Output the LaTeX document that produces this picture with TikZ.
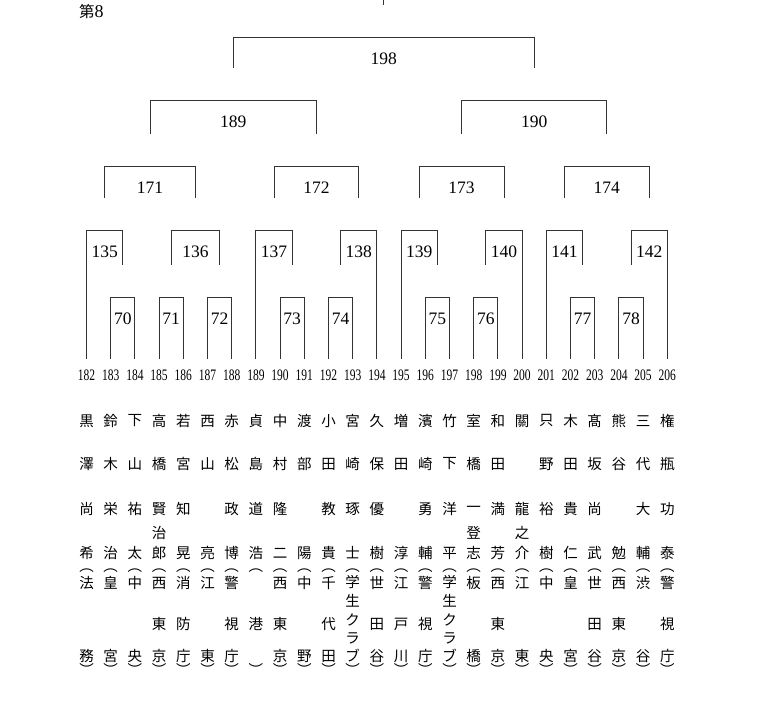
\documentclass[tikz,border=0pt]{standalone}
\usepackage{fontspec}
\setmainfont{Liberation Serif}
\newfontfamily\jp{Noto Sans CJK JP}
\usepackage{graphicx}
\usetikzlibrary{calc}

% one entrant: name and team, written top to bottom under its number
\newcommand{\entrant}[2]{%
  \node[paren] (o#1) at (n#1 |- 0,130) {︵};
  \node[paren] (c#1) at (n#1 |- 0,32) {︶};
  \foreach \kj/\ky [count=\kk] in {#2}
    \node[kanji] (k#1-\kk) at (n#1 |- 0,\ky) {\kj};
}

\begin{document}
\begin{tikzpicture}[x=1pt, y=1pt, every node/.style={inner sep=0pt},
  leaf/.style={minimum height=32pt, font=\fontsize{16}{16}\selectfont},
  lbl/.style={minimum height=42pt, font=\fontsize{17.5}{17.5}\selectfont},
  kanji/.style={font=\jp\fontsize{14.5}{14.5}\selectfont},
  paren/.style={kanji},
  bracket/.style={line width=0.9pt, draw=black!80}]
  \useasboundingbox (0,0) rectangle (760,701);

  % heading
  \node[anchor=west, font=\jp\fontsize{15.5}{15.5}\selectfont] (title) at (79,689) {第{\rmfamily\fontsize{18}{18}\selectfont 8}};

  % entrant numbers
  \foreach \i [count=\k from 0] in {182,...,206}
    \node[leaf] (n\i) at (86.5+24.2*\k,326) {\scalebox{0.72}[1]{\i}};

  % first round
  \node[lbl] (m70) at ($(n183)!.5!(n184)+(0,56)$) {70};
  \node[lbl] (m71) at ($(n185)!.5!(n186)+(0,56)$) {71};
  \node[lbl] (m72) at ($(n187)!.5!(n188)+(0,56)$) {72};
  \node[lbl] (m73) at ($(n190)!.5!(n191)+(0,56)$) {73};
  \node[lbl] (m74) at ($(n192)!.5!(n193)+(0,56)$) {74};
  \node[lbl] (m75) at ($(n196)!.5!(n197)+(0,56)$) {75};
  \node[lbl] (m76) at ($(n198)!.5!(n199)+(0,56)$) {76};
  \node[lbl] (m77) at ($(n202)!.5!(n203)+(0,56)$) {77};
  \node[lbl] (m78) at ($(n204)!.5!(n205)+(0,56)$) {78};
  \draw[bracket] (n183.north) |- (m70.north) -| (n184.north);
  \draw[bracket] (n185.north) |- (m71.north) -| (n186.north);
  \draw[bracket] (n187.north) |- (m72.north) -| (n188.north);
  \draw[bracket] (n190.north) |- (m73.north) -| (n191.north);
  \draw[bracket] (n192.north) |- (m74.north) -| (n193.north);
  \draw[bracket] (n196.north) |- (m75.north) -| (n197.north);
  \draw[bracket] (n198.north) |- (m76.north) -| (n199.north);
  \draw[bracket] (n202.north) |- (m77.north) -| (n203.north);
  \draw[bracket] (n204.north) |- (m78.north) -| (n205.north);

  % second round
  \node[lbl] (m135) at ($(n182)!.5!(m70)+(0,95)$) {135};
  \node[lbl] (m136) at ($(m71)!.5!(m72)+(0,67)$) {136};
  \node[lbl] (m137) at ($(n189)!.5!(m73)+(0,95)$) {137};
  \node[lbl] (m138) at ($(m74)!.5!(n194)+(0,95)$) {138};
  \node[lbl] (m139) at ($(n195)!.5!(m75)+(0,95)$) {139};
  \node[lbl] (m140) at ($(m76)!.5!(n200)+(0,95)$) {140};
  \node[lbl] (m141) at ($(n201)!.5!(m77)+(0,95)$) {141};
  \node[lbl] (m142) at ($(m78)!.5!(n206)+(0,95)$) {142};
  \draw[bracket] (n182.north) |- (m135.north) -| ([yshift=33pt]m70.north);
  \draw[bracket] ([yshift=33pt]m71.north) |- (m136.north) -| ([yshift=33pt]m72.north);
  \draw[bracket] (n189.north) |- (m137.north) -| ([yshift=33pt]m73.north);
  \draw[bracket] ([yshift=33pt]m74.north) |- (m138.north) -| (n194.north);
  \draw[bracket] (n195.north) |- (m139.north) -| ([yshift=33pt]m75.north);
  \draw[bracket] ([yshift=33pt]m76.north) |- (m140.north) -| (n200.north);
  \draw[bracket] (n201.north) |- (m141.north) -| ([yshift=33pt]m77.north);
  \draw[bracket] ([yshift=33pt]m78.north) |- (m142.north) -| (n206.north);

  % third round
  \node[lbl] (m171) at ($(m135)!.5!(m136)+(0,64)$) {171};
  \node[lbl] (m172) at ($(m137)!.5!(m138)+(0,64)$) {172};
  \node[lbl] (m173) at ($(m139)!.5!(m140)+(0,64)$) {173};
  \node[lbl] (m174) at ($(m141)!.5!(m142)+(0,64)$) {174};
  \draw[bracket] ([yshift=33pt]m135.north) |- (m171.north) -| ([yshift=33pt]m136.north);
  \draw[bracket] ([yshift=33pt]m137.north) |- (m172.north) -| ([yshift=33pt]m138.north);
  \draw[bracket] ([yshift=33pt]m139.north) |- (m173.north) -| ([yshift=33pt]m140.north);
  \draw[bracket] ([yshift=33pt]m141.north) |- (m174.north) -| ([yshift=33pt]m142.north);

  % fourth round and final
  \node[lbl] (m189) at ($(m171)!.5!(m172)+(0,66)$) {189};
  \node[lbl] (m190) at ($(m173)!.5!(m174)+(0,66)$) {190};
  \node[lbl] (m198) at ($(m189)!.5!(m190)+(0,63)$) {198};
  \draw[bracket] ([yshift=33pt]m171.north) |- (m189.north) -| ([yshift=33pt]m172.north);
  \draw[bracket] ([yshift=33pt]m173.north) |- (m190.north) -| ([yshift=33pt]m174.north);
  \draw[bracket] ([yshift=33pt]m189.north) |- (m198.north) -| ([yshift=33pt]m190.north);
  \draw[bracket] ([yshift=33pt]m198.north) -- ([yshift=45pt]m198.north);

  % names and teams
  \entrant{182}{黒/280,澤/237,尚/192,希/148,法/118,務/45}
  \entrant{183}{鈴/280,木/237,栄/192,治/148,皇/118,宮/45}
  \entrant{184}{下/280,山/237,祐/192,太/148,中/118,央/45}
  \entrant{185}{高/280,橋/237,賢/192,治/168,郎/148,西/118,東/77,京/45}
  \entrant{186}{若/280,宮/237,知/192,晃/148,消/118,防/77,庁/45}
  \entrant{187}{西/280,山/237,亮/148,江/118,東/45}
  \entrant{188}{赤/280,松/237,政/192,博/148,警/118,視/77,庁/45}
  \entrant{189}{貞/280,島/237,道/192,浩/148,港/77}
  \entrant{190}{中/280,村/237,隆/192,二/148,西/118,東/77,京/45}
  \entrant{191}{渡/280,部/237,陽/148,中/118,野/45}
  \entrant{192}{小/280,田/237,教/192,貴/148,千/118,代/77,田/45}
  \entrant{193}{宮/280,崎/237,琢/192,士/148,学/119,生/100,ク/81,ラ/63,ブ/45}
  \entrant{194}{久/280,保/237,優/192,樹/148,世/118,田/77,谷/45}
  \entrant{195}{増/280,田/237,淳/148,江/118,戸/77,川/45}
  \entrant{196}{濱/280,崎/237,勇/192,輔/148,警/118,視/77,庁/45}
  \entrant{197}{竹/280,下/237,洋/192,平/148,学/119,生/100,ク/81,ラ/63,ブ/45}
  \entrant{198}{室/280,橋/237,一/192,登/168,志/148,板/118,橋/45}
  \entrant{199}{和/280,田/237,満/192,芳/148,西/118,東/77,京/45}
  \entrant{200}{關/280,龍/192,之/168,介/148,江/118,東/45}
  \entrant{201}{只/280,野/237,裕/192,樹/148,中/118,央/45}
  \entrant{202}{木/280,田/237,貴/192,仁/148,皇/118,宮/45}
  \entrant{203}{髙/280,坂/237,尚/192,武/148,世/118,田/77,谷/45}
  \entrant{204}{熊/280,谷/237,勉/148,西/118,東/77,京/45}
  \entrant{205}{三/280,代/237,大/192,輔/148,渋/118,谷/45}
  \entrant{206}{権/280,瓶/237,功/192,泰/148,警/118,視/77,庁/45}
\end{tikzpicture}
\end{document}
